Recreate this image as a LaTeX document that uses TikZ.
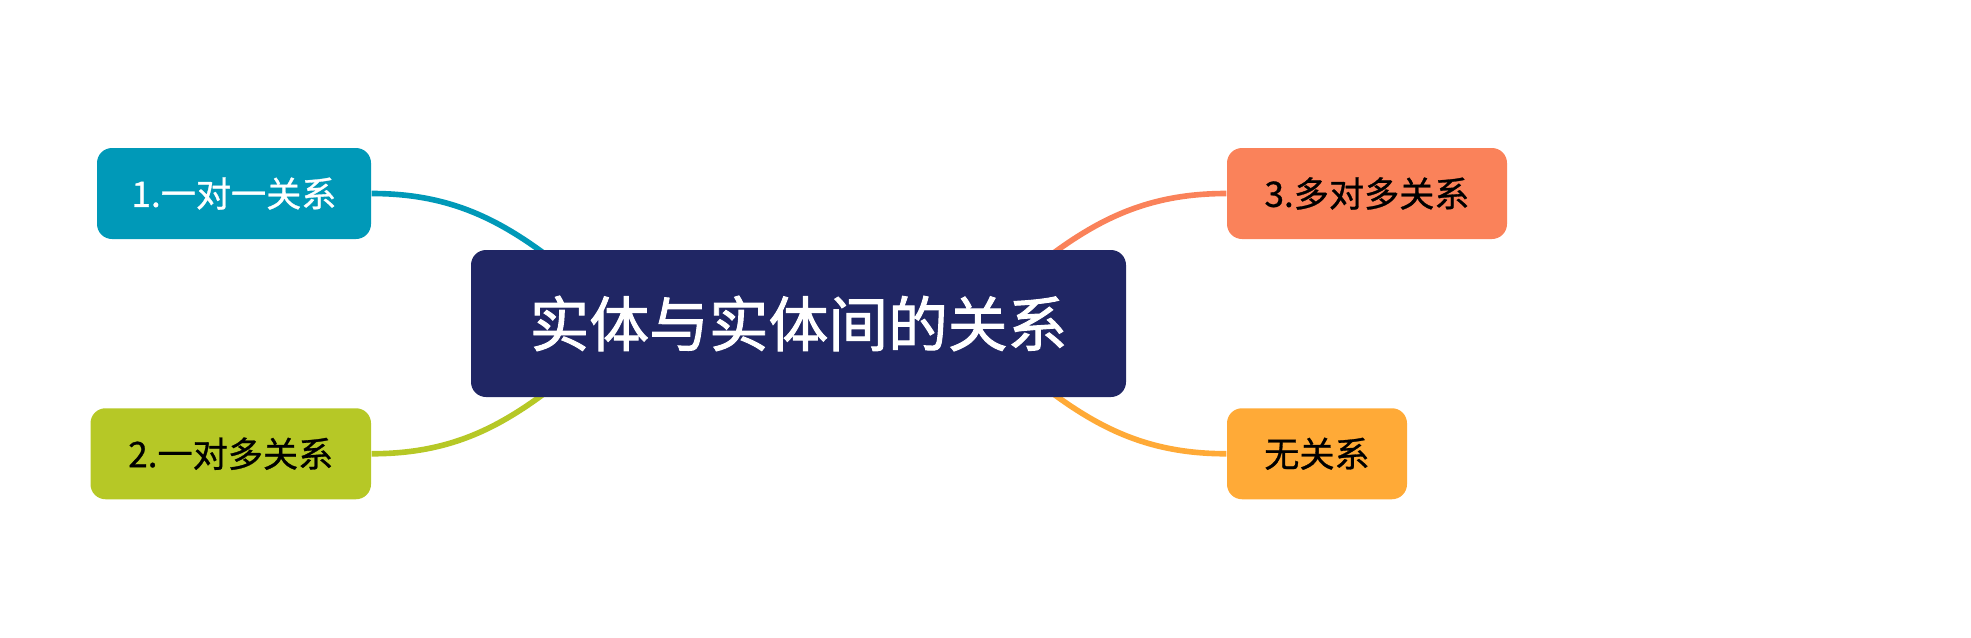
\documentclass[tikz,border=0pt]{standalone}
\usepackage{fontspec}
\setmainfont{Noto Sans CJK SC}
\newfontfamily\hubfont{Noto Sans CJK SC}[FakeBold=1.6]
\newfontfamily\topicfont{Noto Sans CJK SC}[FakeBold=0.8]
\usepackage{tikz}
\usetikzlibrary{positioning,calc}

\definecolor{hubblue}{RGB}{32,38,100}
\definecolor{tealc}{RGB}{0,153,184}
\definecolor{limec}{RGB}{182,200,38}
\definecolor{coralc}{RGB}{250,130,90}
\definecolor{amberc}{RGB}{255,170,55}

\tikzset{
  topic/.style={rounded corners=0.15cm, minimum height=0.91cm, inner sep=0pt, font=\topicfont\fontsize{10}{12}\selectfont},
  hubbox/.style={topic, fill=hubblue, text=white, minimum width=6.55cm, minimum height=1.47cm, font=\hubfont\fontsize{17}{20}\selectfont},
  branch/.style={line width=1.6pt},
}

\begin{document}
\begin{tikzpicture}
	\useasboundingbox (0,0) rectangle (19.71,6.37);
	% hidden ends of the branches, under the main box
	\coordinate (e1) at (5.90,3.47);
	\coordinate (e2) at (5.90,2.80);
	\coordinate (e3) at (10.07,3.47);
	\coordinate (e4) at (10.07,2.80);
	% branch topics
	\node[topic, fill=tealc, text=white, minimum width=2.74cm] (one) at (2.34,4.435) {1.一对一关系};
	\node[topic, fill=limec, minimum width=2.805cm] (many) at (2.3075,1.8325) {2.一对多关系};
	\node[topic, fill=coralc, minimum width=2.80cm] (mm) at (13.67,4.435) {3.多对多关系};
	\node[topic, fill=amberc, minimum width=1.80cm] (none) at (13.17,1.8325) {无关系};
	% curves
	\draw[branch, tealc] (one.east) to[out=0,in=140] (e1);
	\draw[branch, limec] (many.east) to[out=0,in=-140] (e2);
	\draw[branch, coralc] (mm.west) to[out=180,in=40] (e3);
	\draw[branch, amberc] (none.west) to[out=180,in=-40] (e4);
	% main topic
	\node[hubbox] (hub) at (7.985,3.135) {实体与实体间的关系};
\end{tikzpicture}
\end{document}
